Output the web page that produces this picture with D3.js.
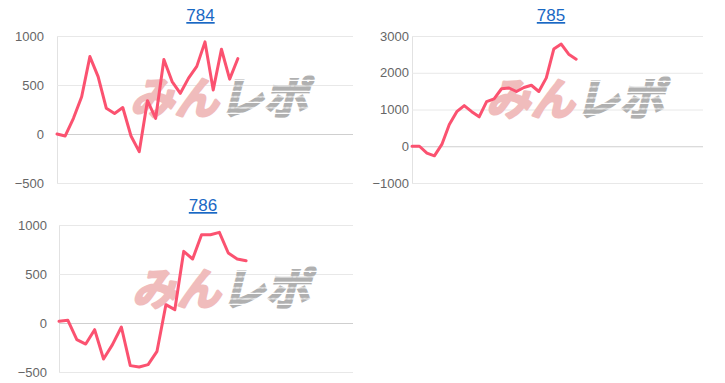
<!DOCTYPE html>
<html>
<head>
<meta charset="utf-8">
<script src="https://cdn.jsdelivr.net/npm/d3@7/dist/d3.min.js"></script>
<style>
  html, body { margin: 0; padding: 0; background: #fff; }
  svg { display: block; }
</style>
</head>
<body>
<svg id="chart" width="725" height="383"></svg>
<script>
// ---- data ----
const titles = ["784", "785", "786"];
const slots784 = 36, slots785 = 39, slots786 = 33;
const values784 = [0, -20, 160, 380, 790, 585, 262, 210, 270, -20, -180, 340, 160, 760, 535, 415, 570, 690, 940, 450, 865, 560, 770];
const values785 = [0, 0, -185, -260, 50, 590, 940, 1105, 940, 800, 1215, 1290, 1565, 1585, 1490, 1600, 1660, 1490, 1860, 2645, 2780, 2505, 2370];
const values786 = [17, 27, -170, -215, -68, -367, -221, -41, -435, -449, -425, -289, 187, 136, 731, 653, 901, 901, 925, 714, 653, 636];
const ticks784 = [-500, 0, 500, 1000];
const ticks785 = [-1000, 0, 1000, 2000, 3000];
const ticks786 = [-500, 0, 500, 1000];
const watermark = ["みん", "レポ"];

// ---- layout ----
const panels = [
  { title: titles[0], values: values784, ticks: ticks784, slots: slots784,
    left: 57, right: 353, top: 36, bottom: 183, pad: 13, titleX: 200.5, titleY: 21, wmX: 219, wmY: 99 },
  { title: titles[1], values: values785, ticks: ticks785, slots: slots785,
    left: 412, right: 703, top: 36, bottom: 183, pad: 3, titleX: 551, titleY: 21, wmX: 575, wmY: 100 },
  { title: titles[2], values: values786, ticks: ticks786, slots: slots786,
    left: 59, right: 353, top: 225, bottom: 372, pad: 12, titleX: 203, titleY: 211, wmX: 221, wmY: 290 }
];

const svg = d3.select("#chart");
const defs = svg.append("defs");
const pat = defs.append("pattern")
  .attr("id", "stripes").attr("patternUnits", "userSpaceOnUse")
  .attr("width", 10).attr("height", 5.5);
pat.append("rect").attr("width", 10).attr("height", 4.2).attr("fill", "#b0b0b0");

panels.forEach(p => {
  const g = svg.append("g");
  const x = d3.scaleLinear().domain([0, p.slots]).range([p.left, p.right]);
  const y = d3.scaleLinear().domain([d3.min(p.ticks), d3.max(p.ticks)]).range([p.bottom, p.top]);

  // grid + labels
  const axis = d3.axisLeft(y).tickValues(p.ticks).tickSize(-(p.right - p.left)).tickPadding(p.pad).tickFormat(d3.format("d"));
  const ag = g.append("g").attr("transform", `translate(${p.left},0)`).call(axis);
  ag.select(".domain").attr("stroke", "#e2e2e2").attr("d", `M0.5,${p.top}V${p.bottom}`);
  ag.selectAll(".tick line").attr("stroke", d => d === 0 ? "#cfcfcf" : "#e8e8e8").attr("stroke-width", 1);
  ag.selectAll(".tick text").attr("fill", "#666").attr("font-family", "'Liberation Sans', Arial, sans-serif").attr("font-size", 13);

  // watermark
  const wm = g.append("text")
    .attr("transform", `translate(${p.wmX},${p.wmY + 15}) skewX(-14)`)
    .attr("text-anchor", "middle")
    .attr("font-family", "'Noto Sans CJK JP', sans-serif")
    .attr("font-weight", 700).attr("font-size", 44)
    .attr("letter-spacing", 0.5);
  wm.append("tspan").attr("fill", "#f0bcbc").attr("stroke", "#f0bcbc").attr("stroke-width", 2.5)
    .attr("stroke-linejoin", "round").text(watermark[0]);
  wm.append("tspan").attr("fill", "url(#stripes)").attr("stroke", "url(#stripes)").attr("stroke-width", 2.5)
    .text(watermark[1]);

  // line
  const line = d3.line().x((d, i) => x(i)).y(d => y(d)).curve(d3.curveLinear);
  g.append("path").datum(p.values)
    .attr("d", line).attr("fill", "none")
    .attr("stroke", "#fb5270").attr("stroke-width", 3)
    .attr("stroke-linejoin", "round").attr("stroke-linecap", "round");

  // title
  g.append("text").attr("x", p.titleX).attr("y", p.titleY)
    .attr("text-anchor", "middle")
    .attr("font-family", "'Liberation Sans', Arial, sans-serif")
    .attr("font-size", 17).attr("fill", "#1a68c4")
    .attr("text-decoration", "underline")
    .text(p.title);
});
</script>
</body>
</html>
